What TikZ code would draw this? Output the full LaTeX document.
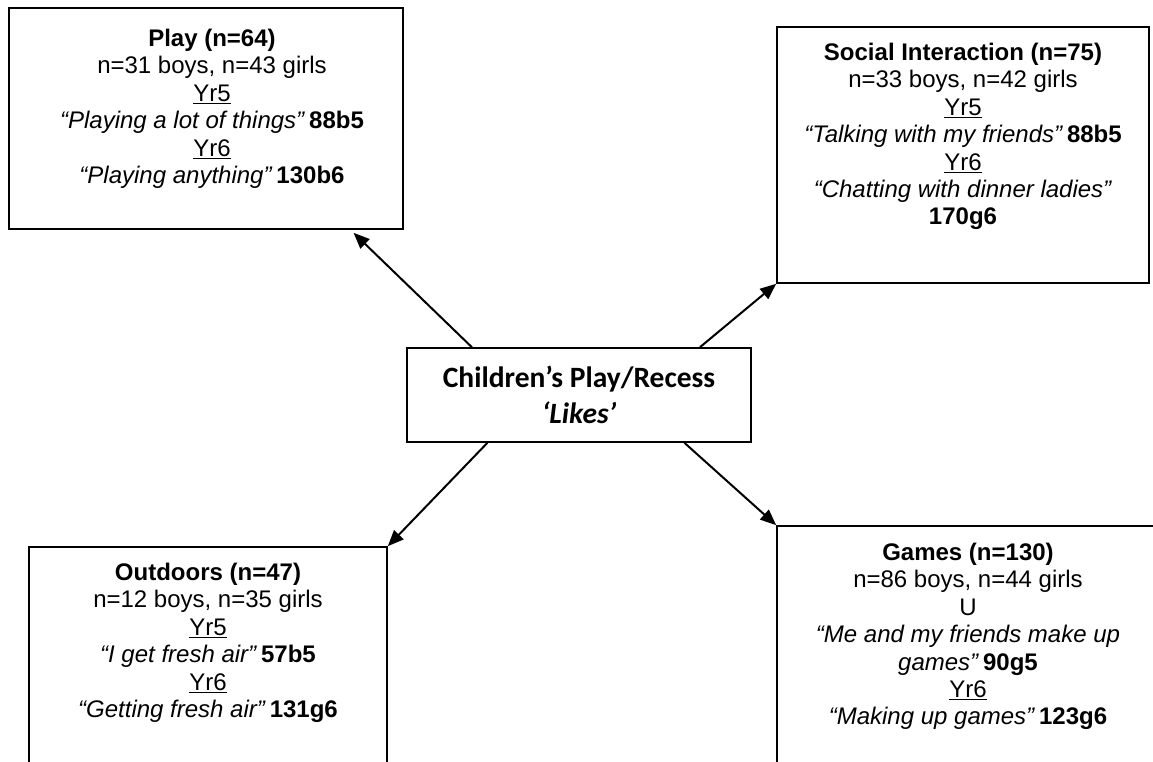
\documentclass[tikz,border=0pt]{standalone}
\usepackage{fontspec}
\setmainfont{Liberation Sans}
\newfontfamily\hubfont{Carlito}
\usetikzlibrary{arrows.meta,calc}

\tikzset{
  catbox/.style={draw=black, line width=1.6pt, rectangle, inner sep=0pt},
  hubbox/.style={draw=black, line width=1.6pt, rectangle, inner sep=0pt,
    minimum width=344pt, minimum height=94pt, align=center,
    font=\hubfont\fontsize{29.5}{36}\selectfont\bfseries},
  cattext/.style={anchor=north, inner sep=0pt, align=center,
    font=\fontsize{24}{27.4}\selectfont},
  link/.style={line width=2pt, -{Triangle[length=16pt,width=13pt]}},
}

\begin{document}
\begin{tikzpicture}[x=1pt, y=-1pt]
\useasboundingbox (0,0) rectangle (1153,762);
\clip (0,0) rectangle (1153,762);

% central topic
\node[hubbox] (hub) at (579,395) {Children’s Play/Recess\\\textit{‘Likes’}};

% category boxes
\node[catbox, minimum width=394pt, minimum height=221pt] (play) at (206,118.5) {};
\node[catbox, minimum width=372pt, minimum height=256pt] (social) at (963,155) {};
\node[catbox, minimum width=358pt, minimum height=240pt] (outdoors) at (208,667) {};
\node[catbox, minimum width=390pt, minimum height=260pt] (games) at (972,656) {};

% category texts
\node[cattext] (playtext) at (212,29) {%
  \textbf{Play (n=64)}\\
  n=31 boys, n=43 girls\\
  \underline{Yr5}\\
  \textit{“Playing a lot of things”}\,\textbf{88b5}\\
  \underline{Yr6}\\
  \textit{“Playing anything”}\,\textbf{130b6}};

\node[cattext] (socialtext) at (963,43) {%
  \textbf{Social Interaction (n=75)}\\
  n=33 boys, n=42 girls\\
  \underline{Yr5}\\
  \textit{“Talking with my friends”}\,\textbf{88b5}\\
  \underline{Yr6}\\
  \textit{“Chatting with dinner ladies”}\\
  \textbf{170g6}};

\node[cattext] (outdoorstext) at (208,563) {%
  \textbf{Outdoors (n=47)}\\
  n=12 boys, n=35 girls\\
  \underline{Yr5}\\
  \textit{“I get fresh air”}\,\textbf{57b5}\\
  \underline{Yr6}\\
  \textit{“Getting fresh air”}\,\textbf{131g6}};

\node[cattext] (gamestext) at (968,543) {%
  \textbf{Games (n=130)}\\
  n=86 boys, n=44 girls\\
  U\\
  \textit{“Me and my friends make up}\\
  \textit{games”}\,\textbf{90g5}\\
  \underline{Yr6}\\
  \textit{“Making up games”}\,\textbf{123g6}};

% connectors from the central topic
\draw[link] ($(hub.north west)!0.19!(hub.north east)$)
  -- ($(play.south west)!0.873!(play.south east)+(0,3)$);
\draw[link] ($(hub.north west)!0.85!(hub.north east)$) -- (social.south west);
\draw[link] ($(hub.south west)!0.235!(hub.south east)$) -- (outdoors.north east);
\draw[link] ($(hub.south west)!0.805!(hub.south east)$) -- (games.north west);
\end{tikzpicture}
\end{document}
